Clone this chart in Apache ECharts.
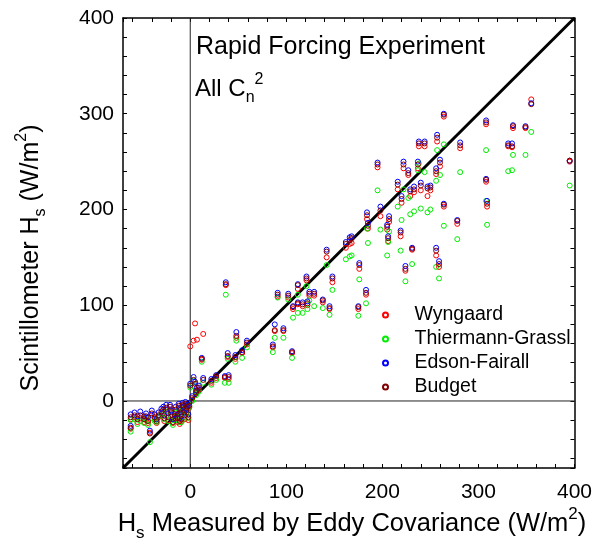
<!DOCTYPE html>
<html>
<head>
<meta charset="utf-8">
<script src="https://cdn.jsdelivr.net/npm/echarts@6/dist/echarts.min.js"></script>
<style>
  html, body { margin: 0; padding: 0; background: #fff; }
  #chart { width: 595px; height: 554px; }
</style>
</head>
<body>
<div id="chart"></div>
<script>
// H_s measured by eddy covariance (x), one entry per run
var eddyX = [
  -62, -62, -52, -48, -42, -40, -37, -44, -35, -30, -25, -23, -20, -18, -15, -13, -12, -10, -9, -8,
  -7, -6, -5, -4, -3, -2, -1, -27, -33, -16, -21, -11, -28, -55, -46, -58,
  0, 3.5, 5, 7, 13.5, 9, 2, 6, 12, 22, 27, 36, 40, 37, 39, 48, 47, 54, 59,
  86, 88, 91, 97, 102, 106, 107, 112, 117, 112, 121, 122, 129, 138, 145, 142, 148,
  162, 166, 168, 176, 175, 183, 184, 185, 195, 198, 207, 206, 205, 216, 219, 220, 222,
  224, 227, 229, 231, 233, 237, 238, 244, 240, 247, 250, 257, 256, 259, 260, 256,
  264, 264, 278, 281, 308, 308, 309, 331, 335, 336, 349, 355, 395, 124
];
// scintillometer H_s for each method
var edson = [
  -14, -26, -11, -16, -31, -10, -14, -17, -19, -8, -4, -13, -10, -19, -6, -14, -3, -9, -16, -2,
  -6, -12, -1, -8, -4, -14, -2, -15, -12, -14, -4, -18, -6, -16, -13, -12,
  18, 25, 20, 14, 24, 16, 5, 11, 45, 23, 27, 26, 27, 124, 50, 72, 48, 53, 63,
  59, 80, 113, 76, 112, 52, 99, 103, 103, 122, 130, 104, 114, 106, 99, 158, 130,
  166, 171, 172, 144, 99, 116, 197, 186, 249, 203, 193, 172, 184, 229, 178, 214, 250,
  141, 241, 221, 160, 224, 250, 271, 271, 228, 224, 225, 278, 160, 146, 252, 243,
  300, 206, 189, 270, 293, 232, 209, 269, 269, 288, 287, 311, 251, 114
];
var budget = [
  -17, -28, -15, -19, -34, -13, -17, -21, -21, -11, -7, -17, -12, -22, -9, -18, -5, -12, -19, -4,
  -9, -15, -3, -10, -6, -17, -5, -18, -15, -16, -6, -21, -9, -19, -16, -15,
  16, 22, 18, 11, 22, 14, 3, 9, 44, 21, 26, 25, 25, 122, 47, 68, 46, 51, 61,
  57, 74, 111, 74, 110, 51, 98, 102, 101, 121, 128, 102, 112, 105, 97, 156, 128,
  164, 168, 170, 142, 98, 113, 194, 183, 247, 199, 190, 170, 182, 226, 176, 211, 247,
  138, 238, 219, 159, 221, 247, 269, 269, 225, 222, 223, 275, 157, 143, 249, 240,
  299, 205, 188, 267, 291, 231, 206, 267, 266, 287, 286, 310, 251, 112
];
var wyngaard = [
  -19, -29, -18, -22, -33, -15, -19, -23, -23, -13, -9, -20, -15, -23, -11, -22, -7, -14, -21, -5,
  -11, -19, -4, -12, -8, -20, -7, -21, -17, -18, -9, -24, -12, -22, -20, -17,
  57, 63, 81, 64, 70, 12, 1, 8, 43, 19, 24, 24, 23, 121, 46, 66, 44, 50, 59,
  56, 73, 109, 73, 108, 50, 96, 101, 99, 117, 126, 100, 110, 103, 96, 150, 124,
  160, 164, 165, 138, 96, 111, 190, 180, 244, 193, 187, 167, 179, 221, 172, 207, 243,
  136, 236, 214, 158, 218, 243, 266, 266, 220, 214, 220, 271, 152, 140, 245, 237,
  297, 203, 185, 264, 289, 229, 203, 266, 265, 285, 285, 315, 250, 110
];
var thiermann = [
  -20, -32, -21, -23, -43, -18, -21, -25, -22, -15, -11, -21, -16, -25, -12, -20, -8, -15, -22, -6,
  -10, -17, -5, -13, -9, -18, -6, -19, -16, -20, -11, -22, -13, -24, -18, -19,
  14, 21, 15, 9, 19, 10, 0, 6, 41, 17, 22, 19, 19, 111, 44, 63, 41, 45, 56,
  51, 66, 108, 66, 106, 45, 87, 92, 92, 111, 120, 96, 99, 97, 90, 142, 116,
  148, 151, 152, 127, 89, 102, 180, 165, 220, 179, 177, 166, 152, 203, 157, 189, 221,
  125, 212, 195, 143, 198, 241, 248, 239, 201, 197, 200, 262, 140, 128, 236, 230,
  268, 183, 169, 239, 262, 209, 184, 240, 241, 257, 257, 281, 225, 105
];
var seriesNames = ['Wyngaard', 'Thiermann-Grassl', 'Edson-Fairall', 'Budget'];
var seriesColors = ['#ff0000', '#00ee00', '#0000ff', '#800000'];
var axisRange = [-70, 400];
var tickLabels = [0, 100, 200, 300, 400];

var FONT = 'Liberation Sans, Arial, sans-serif';

function pairs(ys) {
  return eddyX.map(function (x, i) { return [x, ys[i]]; });
}
function labelFmt(v) {
  return tickLabels.indexOf(v) >= 0 ? String(v) : '';
}
// rich text styles for sub/superscripts
function richSet(size) {
  var small = Math.round(size * 0.65);
  return {
    n: { fontSize: size, fontFamily: FONT, lineHeight: size + 10, verticalAlign: 'middle' },
    sub: { fontSize: small, fontFamily: FONT, lineHeight: small, verticalAlign: 'bottom' },
    sup: { fontSize: small, fontFamily: FONT, lineHeight: small, verticalAlign: 'top' }
  };
}

var valueSets = [wyngaard, thiermann, edson, budget];

var scatterSeries = seriesNames.map(function (name, k) {
  return {
    name: name,
    type: 'scatter',
    symbol: 'circle',
    symbolSize: 5,
    z: 5,
    itemStyle: { color: 'rgba(0,0,0,0)', borderColor: seriesColors[k], borderWidth: 1, opacity: 1 },
    emphasis: { disabled: true },
    data: pairs(valueSets[k])
  };
});

function baseAxis(pos, showLabel, margin) {
  return {
    type: 'value',
    position: pos,
    min: axisRange[0],
    max: axisRange[1],
    minInterval: 20,
    maxInterval: 20,
    axisLine: { show: true, onZero: false, lineStyle: { color: '#000', width: 1.5 } },
    axisTick: { show: true, inside: true, length: 4, lineStyle: { color: '#000', width: 1 } },
    axisLabel: {
      show: showLabel, interval: 0, formatter: labelFmt, margin: margin,
      color: '#000', fontSize: 21, fontFamily: FONT
    },
    splitLine: { show: false }
  };
}

var option = {
  animation: false,
  backgroundColor: '#fff',
  grid: { left: 123, right: 18, top: 18, bottom: 86 },
  xAxis: [baseAxis('bottom', true, 14), baseAxis('top', false, 8)],
  yAxis: [baseAxis('left', true, 9), baseAxis('right', false, 8)],
  legend: {
    orient: 'vertical',
    left: 377,
    top: 300,
    itemWidth: 48,
    itemHeight: 5,
    itemGap: 4,
    icon: 'circle',
    selectedMode: false,
    textStyle: { fontSize: 19.5, lineHeight: 20, color: '#000', fontFamily: FONT },
    data: seriesNames
  },
  series: [
    {
      name: 'zeroX', type: 'line', silent: true, symbol: 'none', z: 2,
      lineStyle: { color: '#222', width: 1 },
      data: [[0, axisRange[0]], [0, axisRange[1]]]
    },
    {
      name: 'zeroY', type: 'line', silent: true, symbol: 'none', z: 2,
      lineStyle: { color: '#222', width: 1 },
      data: [[axisRange[0], 0], [axisRange[1], 0]]
    },
    {
      name: 'oneToOne', type: 'line', silent: true, symbol: 'none', z: 3,
      lineStyle: { color: '#000', width: 3 },
      data: [[axisRange[0], axisRange[0]], [axisRange[1], axisRange[1]]]
    }
  ].concat(scatterSeries),
  graphic: [
    {
      type: 'text', x: 196, y: 47, silent: true,
      style: { text: 'Rapid Forcing Experiment', fontSize: 25, fontFamily: FONT, fill: '#000', verticalAlign: 'middle' }
    },
    {
      type: 'text', x: 195, y: 89, silent: true,
      style: {
        text: '{n|All C}{sub|n}{sup|2}', fill: '#000', verticalAlign: 'middle',
        rich: richSet(24)
      }
    },
    {
      type: 'text', x: 352, y: 524, silent: true,
      style: {
        text: '{n|H}{sub|s}{n| Measured by Eddy Covariance (W/m}{sup|2}{n|)}',
        fill: '#000', align: 'center', verticalAlign: 'middle',
        rich: richSet(25.5)
      }
    },
    {
      type: 'text', x: 31, y: 258, rotation: Math.PI / 2, silent: true,
      style: {
        text: '{n|Scintillometer H}{sub|s}{n| (W/m}{sup|2}{n|)}',
        fill: '#000', align: 'center', verticalAlign: 'middle',
        rich: richSet(25)
      }
    }
  ]
};

var chart = echarts.init(document.getElementById('chart'));
chart.setOption(option);
</script>
</body>
</html>
